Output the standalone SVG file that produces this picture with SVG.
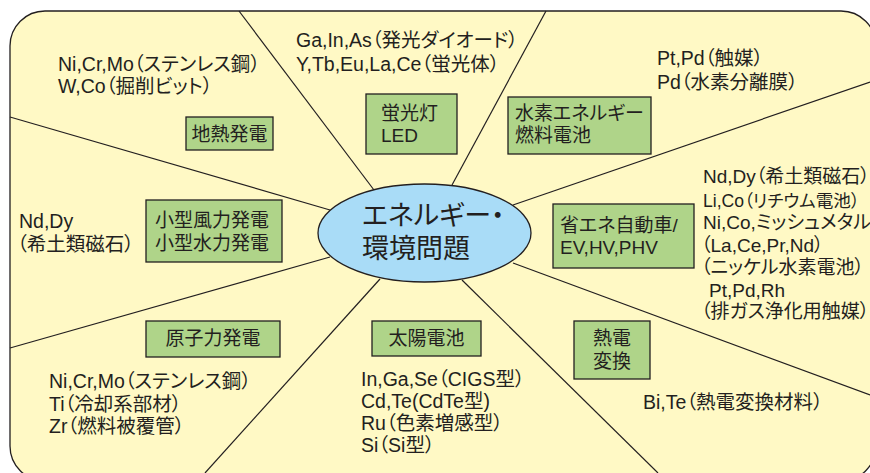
<svg xmlns="http://www.w3.org/2000/svg" width="870" height="473" viewBox="0 0 870 473">
<style>
.bg{fill:#fff9c5;stroke:#231f20;stroke-width:1.3}
.ln{stroke:#231f20;stroke-width:1.2;fill:none}
.box{fill:#afd489;stroke:#231f20;stroke-width:1.3}
.hubshape{fill:#a9dcf7;stroke:#231f20;stroke-width:1.3}
text{font-family:"Liberation Sans","Noto Sans CJK JP",sans-serif;font-size:19px;fill:#231f20;font-feature-settings:"palt"}
.m{font-size:19.5px}
.c{text-anchor:middle}
.hub{font-size:27px}
</style>
<rect x="0" y="0" width="870" height="473" fill="#ffffff"/>
<rect class="bg" x="10" y="11" width="866" height="470" rx="35"/>
<g id="connectors">
<line class="ln" x1="239" y1="11" x2="374" y2="190"/>
<line class="ln" x1="546" y1="11" x2="452" y2="185"/>
<line class="ln" x1="870" y1="82" x2="513" y2="205"/>
<line class="ln" x1="513" y1="263" x2="870" y2="395"/>
<line class="ln" x1="462" y1="280" x2="658" y2="473"/>
<line class="ln" x1="380" y1="279" x2="205" y2="473"/>
<line class="ln" x1="10" y1="348" x2="330" y2="257"/>
<line class="ln" x1="10" y1="117" x2="330" y2="210"/>
</g>
<g id="hub">
<ellipse class="hubshape" cx="424.5" cy="233" rx="106.5" ry="49"/>
<text class="hub" x="362" y="225">エネルギー・</text>
<text class="hub" x="362" y="258">環境問題</text>
</g>
<g id="geothermal">
<rect class="box" x="186" y="117" width="87" height="33"/>
<text class="c" x="229.5" y="141">地熱発電</text>
</g>
<g id="led">
<rect class="box" x="366" y="94" width="91" height="60"/>
<text x="381" y="120">蛍光灯</text>
<text x="381" y="142">LED</text>
</g>
<g id="hydrogen">
<rect class="box" x="508" y="97" width="143" height="57"/>
<text x="515" y="120">水素エネルギー</text>
<text x="515" y="142">燃料電池</text>
</g>
<g id="smallgen">
<rect class="box" x="146" y="200" width="136" height="62"/>
<text x="155" y="227">小型風力発電</text>
<text x="155" y="250">小型水力発電</text>
</g>
<g id="car">
<rect class="box" x="553" y="204" width="141" height="64"/>
<text x="560" y="232">省エネ自動車/</text>
<text x="560" y="254">EV,HV,PHV</text>
</g>
<g id="nuclear">
<rect class="box" x="146" y="321" width="134" height="36"/>
<text class="c" x="213" y="345">原子力発電</text>
</g>
<g id="solar">
<rect class="box" x="372" y="321" width="109" height="35"/>
<text class="c" x="426.5" y="345">太陽電池</text>
</g>
<g id="thermo">
<rect class="box" x="574" y="321" width="76" height="58"/>
<text x="593" y="345">熱電</text>
<text x="593" y="368">変換</text>
</g>
<g id="mat-geothermal">
<text class="m" x="58" y="71">Ni,Cr,Mo（ステンレス鋼）</text>
<text class="m" x="58" y="93">W,Co（掘削ビット）</text>
</g>
<g id="mat-led">
<text class="m" x="296" y="47">Ga,In,As（発光ダイオード）</text>
<text class="m" x="296" y="71">Y,Tb,Eu,La,Ce（蛍光体）</text>
</g>
<g id="mat-hydrogen">
<text class="m" x="657" y="65">Pt,Pd（触媒）</text>
<text class="m" x="657" y="89">Pd（水素分離膜）</text>
</g>
<g id="mat-smallgen">
<text class="m" x="19" y="228">Nd,Dy</text>
<text class="m" x="17" y="251">（希土類磁石）</text>
</g>
<g id="mat-car">
<text x="703" y="183">Nd,Dy（希土類磁石）</text>
<text x="703" y="207" style="font-size:17.6px">Li,Co（リチウム電池）</text>
<text x="703" y="229">Ni,Co,ミッシュメタル</text>
<text x="701" y="252">（La,Ce,Pr,Nd）</text>
<text x="701" y="274">（ニッケル水素電池）</text>
<text x="709" y="297">Pt,Pd,Rh</text>
<text x="701" y="318">（排ガス浄化用触媒）</text>
</g>
<g id="mat-nuclear">
<text class="m" x="49" y="388">Ni,Cr,Mo（ステンレス鋼）</text>
<text class="m" x="49" y="411">Ti（冷却系部材）</text>
<text class="m" x="49" y="433">Zr（燃料被覆管）</text>
</g>
<g id="mat-solar">
<text class="m" x="361" y="386">In,Ga,Se（CIGS型）</text>
<text class="m" x="361" y="408">Cd,Te(CdTe型)</text>
<text class="m" x="361" y="430">Ru（色素増感型）</text>
<text class="m" x="361" y="452">Si（Si型）</text>
</g>
<g id="mat-thermo">
<text class="m" x="643" y="409">Bi,Te（熱電変換材料）</text>
</g>
</svg>
